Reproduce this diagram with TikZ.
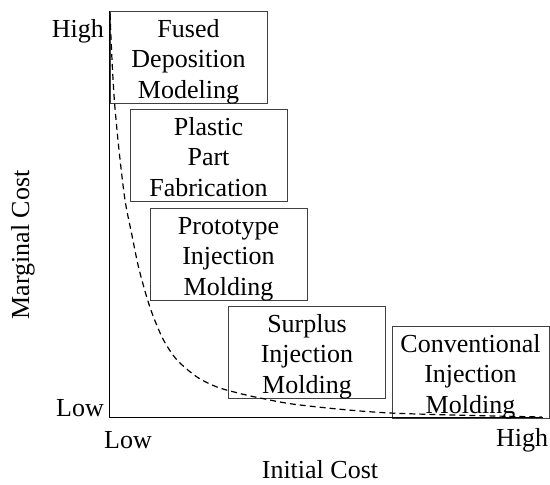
\documentclass[tikz,border=0pt]{standalone}
\usepackage{fontspec}
\setmainfont{Liberation Serif}
\newcommand\firststrut{\rule{0pt}{20pt}}
\begin{document}
\begin{tikzpicture}[x=1pt,y=-1pt,
  font=\fontsize{26}{30.5}\selectfont,
  box/.style={draw=black!75, line width=1pt, minimum width=157pt, minimum height=92pt, inner sep=0pt, align=center, anchor=north west},
  axisline/.style={line width=1.6pt},
  costcurve/.style={line width=1.2pt, dash pattern=on 6pt off 4pt},
  lbl/.style={inner sep=0pt}]
\useasboundingbox (0,0) rectangle (550,485);
% axes
\coordinate (O) at (109.5,417.5);
\coordinate (Ytop) at (109.5,10.5);
\coordinate (Xend) at (543,417.5);
% boxes
\node[box] (fdm) at (109.5,11) {\firststrut Fused\\Deposition\\\smash{Modeling}};
\node[box] (ppf) at (129.5,109) {\firststrut Plastic\\Part\\\smash{Fabrication}};
\node[box] (pim) at (149.5,208) {\firststrut Prototype\\Injection\\\smash{Molding}};
\node[box] (sim) at (228,306) {\firststrut Surplus\\Injection\\\smash{Molding}};
\node[box] (cim) at (391.5,326) {\firststrut Conventional\\Injection\\\smash{Molding}};
\draw[axisline] (Ytop) -- (O) -- (Xend);
% curve
\draw[costcurve] plot[smooth, tension=0.5] coordinates {(110,14) (112,60) (114.5,102) (119,150) (125,200) (131.5,233) (138.5,267) (147,298) (153.5,317) (163.5,340) (177,360) (197,377) (217,387) (238,393) (260,398) (300,405) (390,413) (542,417)};
% labels
\node[lbl, anchor=east] (yhigh) at (104,31) {High};
\node[lbl, anchor=east] (ylow) at (104,408) {Low};
\node[lbl] (xlow) at (128,440) {Low};
\node[lbl] (xhigh) at (522,440) {High};
\node[lbl] (xlabel) at (320,470) {Initial Cost};
\node[lbl, rotate=90] (ylabel) at (23,245) {Marginal Cost};
\end{tikzpicture}
\end{document}
